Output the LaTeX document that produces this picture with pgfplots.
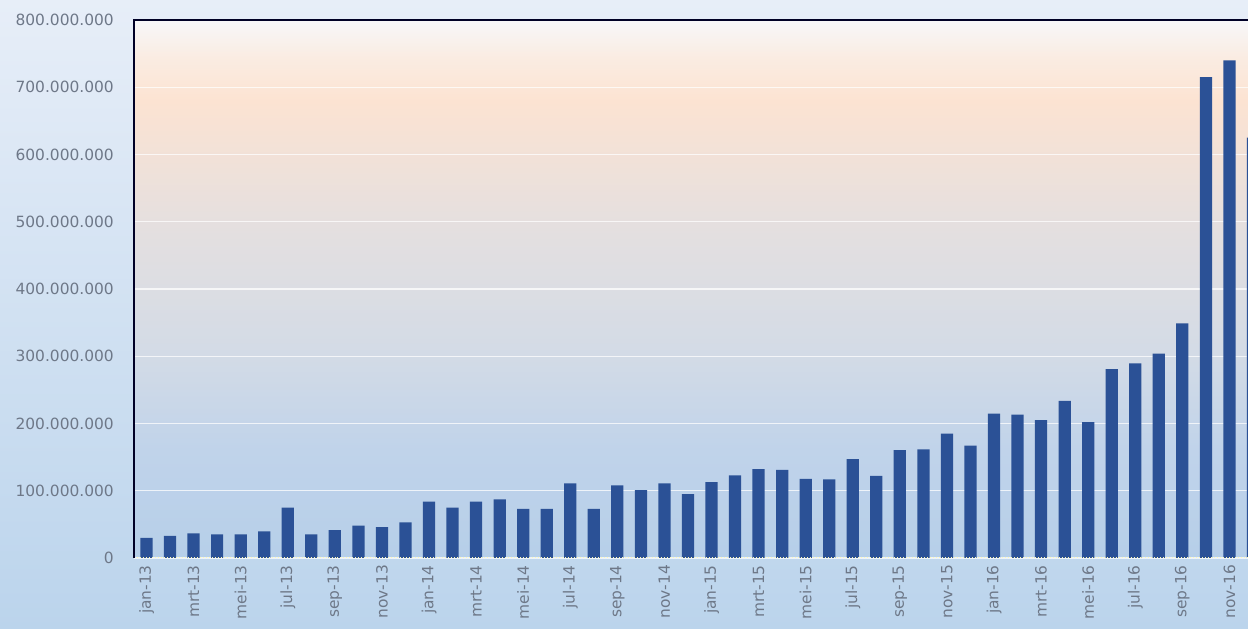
\documentclass[border=0pt]{standalone}
\usepackage{fontspec}
\setmainfont{DejaVu Sans}
\usepackage{pgfplots}
\pgfplotsset{compat=1.18}

\definecolor{barblue}{RGB}{43,81,150}
\definecolor{ticktext}{RGB}{110,120,136}
\definecolor{outtop}{RGB}{231,238,248}
\definecolor{outbot}{RGB}{187,212,236}
\definecolor{pb0}{RGB}{182,207,233}
\definecolor{pb1}{RGB}{192,211,234}
\definecolor{pb2}{RGB}{211,219,230}
\definecolor{pb3}{RGB}{227,223,224}
\definecolor{pb4}{RGB}{252,227,210}
\definecolor{pb5}{RGB}{250,236,226}
\definecolor{pb6}{RGB}{247,247,249}

% plot area: blue at the bottom, peach near the top, white at the very top
\pgfdeclareverticalshading{plotbg}{100bp}{color(0bp)=(pb0); color(25bp)=(pb0);
  color(35bp)=(pb1); color(44bp)=(pb2); color(55bp)=(pb3); color(67.5bp)=(pb4);
  color(71.5bp)=(pb5); color(75bp)=(pb6); color(100bp)=(pb6)}

\begin{document}
\begin{tikzpicture}[x=1bp,y=1bp]
\path[use as bounding box] (0,0) rectangle (1248,629);
\shade[top color=outtop, bottom color=outbot] (0,0) rectangle (1248,629);
\begin{axis}[
    at={(134bp,71bp)}, anchor=south west,
    scale only axis, width=1114bp, height=538bp,
    xmin=-0.531, xmax=46.79,
    ymin=0, ymax=800000000,
    ybar, bar width=0.52,
    axis background/.style={shading=plotbg},
    axis line style={draw=none},
    major tick length=0pt,
    clip mode=individual,
    ymajorgrids=true,
    grid style={white, opacity=0.75, line width=1.2bp},
    xtick={0,2,...,46},
    xticklabels={jan-13,mrt-13,mei-13,jul-13,sep-13,nov-13,
                 jan-14,mrt-14,mei-14,jul-14,sep-14,nov-14,
                 jan-15,mrt-15,mei-15,jul-15,sep-15,nov-15,
                 jan-16,mrt-16,mei-16,jul-16,sep-16,nov-16},
    ytick={0,100000000,200000000,300000000,400000000,500000000,600000000,700000000,800000000},
    scaled y ticks=false,
    /pgf/number format/assume math mode=true,
    /pgf/number format/fixed,
    /pgf/number format/precision=0,
    /pgf/number format/1000 sep={.},
    ticklabel style={font=\fontsize{15.5}{18}\selectfont, text=ticktext},
    yticklabel style={anchor=east, inner sep=0pt},
    yticklabel shift=20bp,
    xticklabel style={rotate=90, anchor=east, inner sep=0pt},
    xticklabel shift=7bp,
]
\addplot[fill=barblue, draw=none] coordinates {
    (0,30000000) (1,33000000) (2,36500000) (3,35000000) (4,35000000) (5,39500000)
    (6,75000000) (7,35000000) (8,41500000) (9,48000000) (10,46000000) (11,53000000)
    (12,84000000) (13,75000000) (14,84000000) (15,87000000) (16,73000000) (17,73000000)
    (18,111000000) (19,73000000) (20,108000000) (21,101000000) (22,111000000) (23,95000000)
    (24,113000000) (25,123000000) (26,132000000) (27,131000000) (28,117500000) (29,117000000)
    (30,147000000) (31,122000000) (32,160500000) (33,161500000) (34,185000000) (35,167000000)
    (36,214500000) (37,213000000) (38,205000000) (39,233500000) (40,202000000) (41,281000000)
    (42,289500000) (43,304000000) (44,349000000) (45,715000000) (46,740000000) (47,625000000)
};
\draw[white!70!yellow, dotted, line width=1bp] (rel axis cs:0,0) -- (rel axis cs:1,0);
\draw[line width=2bp, color=black!85!blue] (rel axis cs:0,0) -- (rel axis cs:0,1) -- (rel axis cs:1.01,1);
\end{axis}
\end{tikzpicture}
\end{document}
